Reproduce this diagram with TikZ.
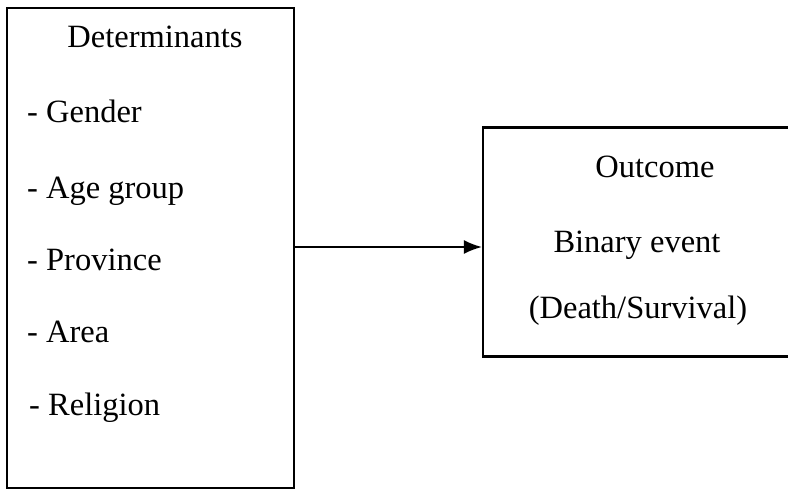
\documentclass[tikz,border=0pt]{standalone}
\usepackage{fontspec}
\setmainfont{Liberation Serif}
\usetikzlibrary{arrows.meta}
\begin{document}
\begin{tikzpicture}[x=1pt,y=-1pt,
  box/.style={draw,line width=2.2pt,inner sep=0pt},
  txt/.style={font=\fontsize{32.5}{38}\selectfont,inner sep=0pt},
  item/.style={txt,anchor=base west},
  ctr/.style={txt,anchor=base}]
\useasboundingbox (0,0) rectangle (788,495);
\clip (0,0) rectangle (788,495);
\fill[white] (0,0) rectangle (788,495);
\node[box,minimum width=287pt,minimum height=480pt] (det) at (150.5,248) {};
\node[box,minimum width=330pt,minimum height=229pt] (out) at (648,242) {};
\node[ctr] (t0) at (155,48) {Determinants};
\node[item] (t1) at (27,123) {- Gender};
\node[item] (t2) at (27,198) {- Age group};
\node[item] (t3) at (27,270) {- Province};
\node[item] (t4) at (27,342) {- Area};
\node[item] (t5) at (29,415) {- Religion};
\node[ctr] (o1) at (655,177) {Outcome};
\node[ctr] (o2) at (637,252) {Binary event};
\node[ctr] (o3) at (638,318) {(Death/Survival)};
\coordinate (a0) at (det.east |- 0,247);
\coordinate (a1) at (out.west |- 0,247);
\draw[line width=1.8pt,-{Latex[length=18pt,width=14pt]}] (a0) -- (a1);
\end{tikzpicture}
\end{document}
